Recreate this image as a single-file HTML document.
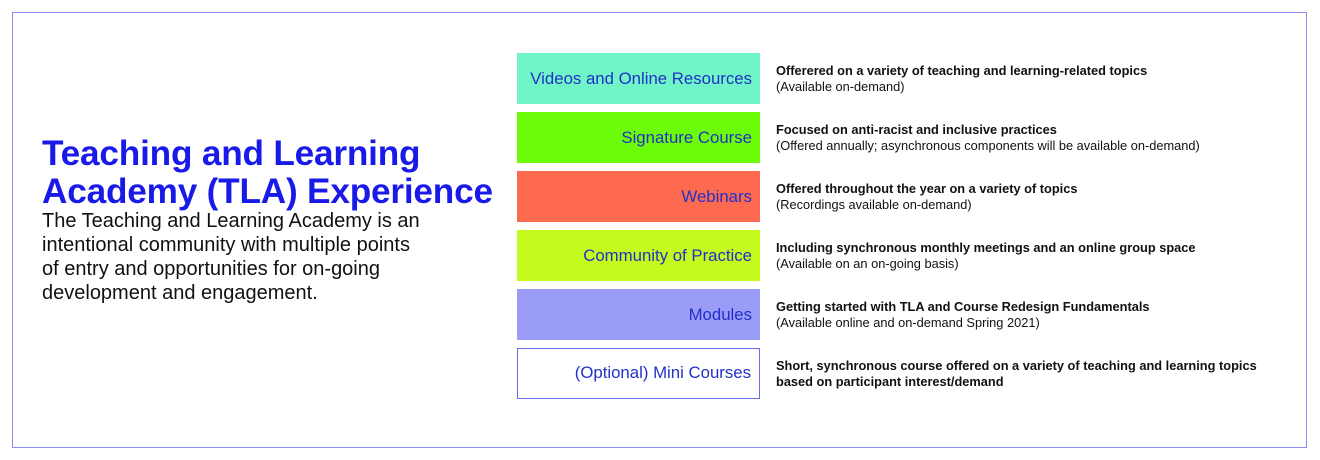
<!DOCTYPE html>
<html><head><style>
body{margin:0;width:1320px;height:460px;background:#fff;position:relative;font-family:"Liberation Sans",sans-serif;overflow:hidden}
.frame{position:absolute;left:12px;top:12px;width:1293px;height:434px;border:1.5px solid #8a8cf0}
.t{position:absolute;left:42px;top:135px;font-size:35.2px;font-weight:bold;color:#1a1ae8;line-height:38px;letter-spacing:-0.2px;white-space:nowrap}
.p{position:absolute;left:42px;top:209px;font-size:20px;color:#111;line-height:24px;white-space:nowrap}
.b{position:absolute;left:517px;width:243px;height:51px;box-sizing:border-box;text-align:right;padding-right:8px;line-height:51px;font-size:16.8px;color:#2230c8;white-space:nowrap}
.d{position:absolute;left:776px;font-size:12.8px;color:#111;line-height:16px;white-space:nowrap}
.d b{font-weight:bold}
</style></head><body>
<div class="frame"></div>
<div class="t">Teaching and Learning<br>Academy (TLA) Experience</div>
<div class="p">The Teaching and Learning Academy is an<br>intentional community with multiple points<br>of entry and opportunities for on-going<br>development and engagement.</div>
<div class="b" style="top:53px;background:#6ff5c6">Videos and Online Resources</div>
<div class="b" style="top:112px;background:#6cfc0a">Signature Course</div>
<div class="b" style="top:171px;background:#fe6a50">Webinars</div>
<div class="b" style="top:230px;background:#c4fa1c">Community of Practice</div>
<div class="b" style="top:289px;background:#9a9cf8">Modules</div>
<div class="b" style="top:348px;background:#fff;border:1.5px solid #6a6cf0;line-height:48px">(Optional) Mini Courses</div>
<div class="d" style="top:63px"><b>Offerered on a variety of teaching and learning-related topics</b><br>(Available on-demand)</div>
<div class="d" style="top:122px"><b>Focused on anti-racist and inclusive practices</b><br>(Offered annually; asynchronous components will be available on-demand)</div>
<div class="d" style="top:181px"><b>Offered throughout the year on a variety of topics</b><br>(Recordings available on-demand)</div>
<div class="d" style="top:240px"><b>Including synchronous monthly meetings and an online group space</b><br>(Available on an on-going basis)</div>
<div class="d" style="top:299px"><b>Getting started with TLA and Course Redesign Fundamentals</b><br>(Available online and on-demand Spring 2021)</div>
<div class="d" style="top:358px"><b>Short, synchronous course offered on a variety of teaching and learning topics<br>based on participant interest/demand</b></div>
</body></html>
